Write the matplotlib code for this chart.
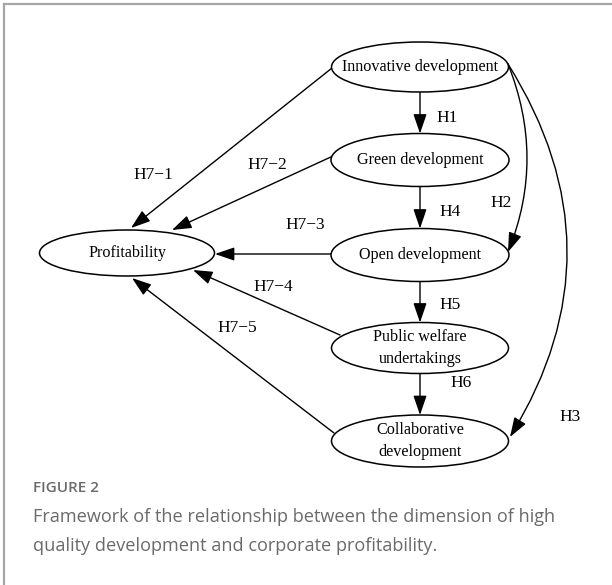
import matplotlib.pyplot as plt
from matplotlib.patches import Ellipse

# nodes of the framework and the hypotheses linking them
nodes = ["Innovative development", "Green development", "Open development",
         "Public welfare\nundertakings", "Collaborative\ndevelopment", "Profitability"]
chain = [("Innovative development", "Green development", "H1"),
         ("Green development", "Open development", "H4"),
         ("Open development", "Public welfare\nundertakings", "H5"),
         ("Public welfare\nundertakings", "Collaborative\ndevelopment", "H6")]
skips = [("Innovative development", "Open development", "H2"),
         ("Innovative development", "Collaborative\ndevelopment", "H3")]
to_profit = ["H7\u22121", "H7\u22122", "H7\u22123", "H7\u22124", "H7\u22125"]

# layout in pixel coordinates (x, y, width, height)
pos = {
    "Innovative development": (420, 67, 177, 50),
    "Green development": (420, 160, 178, 53),
    "Open development": (420, 255, 178, 53),
    "Public welfare\nundertakings": (420, 348, 177, 51),
    "Collaborative\ndevelopment": (420, 441, 177, 52),
    "Profitability": (127, 253, 175, 46),
}

fig = plt.figure(figsize=(6.12, 5.85), dpi=100)
ax = fig.add_axes([0, 0, 1, 1])
ax.set_xlim(0, 612)
ax.set_ylim(585, 0)
ax.axis("off")

# outer frame (top and left edge)
ax.plot([4, 612], [4, 4], color="#a6a6a6", lw=1.6)
ax.plot([4, 4], [4, 585], color="#a6a6a6", lw=1.6)

serif = "Liberation Serif"
arrow = dict(arrowstyle="-|>,head_length=0.7,head_width=0.24", color="black",
             lw=1.0, shrinkA=0, shrinkB=0, mutation_scale=17)

for name in nodes:
    x, y, w, h = pos[name]
    ax.add_patch(Ellipse((x, y), w, h, facecolor="white", edgecolor="black", lw=1.1, zorder=3))
    ax.text(x, y, name, ha="center", va="center", family=serif, fontsize=11.6,
            linespacing=1.5, zorder=4)

# vertical chain
lab_off = [(447, 118), (450, 212), (450, 305), (461, 383)]
for (a, b, lab), (lx, ly) in zip(chain, lab_off):
    xa, ya, wa, ha = pos[a]
    xb, yb, wb, hb = pos[b]
    ax.annotate("", xy=(xb, yb - hb / 2), xytext=(xa, ya + ha / 2), arrowprops=arrow, zorder=2)
    ax.text(lx, ly, lab, ha="center", va="center", family=serif, fontsize=12.5)

# curved arrows on the right
curve_pts = [((508, 64), (508, 252), -0.2, (501, 203)),
             ((508, 64), (510, 437), -0.31, (570, 417))]
for (a, b, lab), (p0, p1, rad, lp) in zip(skips, curve_pts):
    ax.annotate("", xy=p1, xytext=p0,
                arrowprops=dict(arrow, connectionstyle="arc3,rad=%s" % rad), zorder=2)
    ax.text(lp[0], lp[1], lab, ha="center", va="center", family=serif, fontsize=12.5)

# arrows into profitability
starts = [(332, 68), (333, 156), (332, 254), (340, 335), (334, 433)]
tips = [(131, 228), (172, 230), (215, 254), (193, 270), (132, 278)]
lab_pos = [(153, 175), (267, 165), (305, 225), (273, 287), (237, 328)]
for s, t, lab, lp in zip(starts, tips, to_profit, lab_pos):
    ax.annotate("", xy=t, xytext=s, arrowprops=arrow, zorder=2)
    ax.text(lp[0], lp[1], lab, ha="center", va="center", family=serif, fontsize=12.5)

# caption
ax.text(33, 488, "FIGURE 2", ha="left", va="center", family="Open Sans",
        fontsize=11, color="#6a6a6a", fontweight="semibold")
ax.text(33, 517, "Framework of the relationship between the dimension of high",
        ha="left", va="center", family="Open Sans", fontsize=13.1, color="#6a6a6a")
ax.text(33, 546, "quality development and corporate profitability.",
        ha="left", va="center", family="Open Sans", fontsize=13.1, color="#6a6a6a")

fig.savefig("out.png", dpi=100)
